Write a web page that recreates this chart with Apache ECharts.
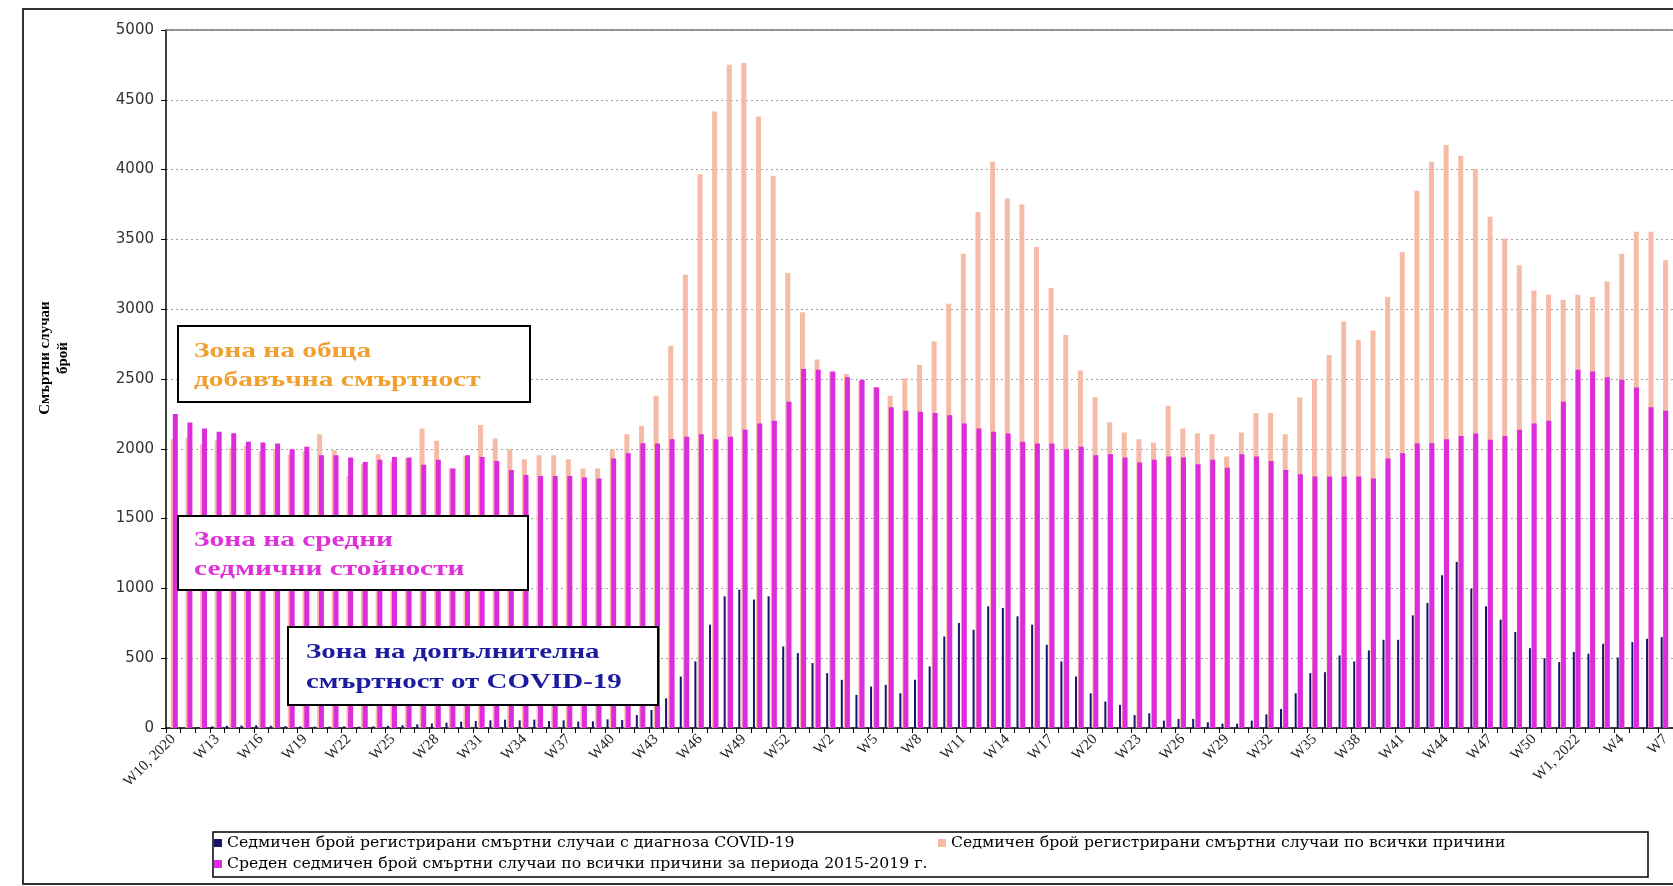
<!DOCTYPE html>
<html>
<head>
<meta charset="utf-8">
<script src="https://cdn.jsdelivr.net/npm/echarts@6/dist/echarts.min.js"></script>
<style>
  html, body { margin: 0; padding: 0; background: #fff; }
  #chart { width: 1673px; height: 886px; }
</style>
</head>
<body>
<div id="chart"></div>
<script>
// седмици: W10 2020 ... W7 2022
const weeks = [
  'W10, 2020','W11','W12','W13','W14','W15','W16','W17','W18','W19','W20','W21','W22','W23','W24','W25','W26','W27','W28','W29',
  'W30','W31','W32','W33','W34','W35','W36','W37','W38','W39','W40','W41','W42','W43','W44','W45','W46','W47','W48','W49',
  'W50','W51','W52','W53',
  'W1, 2021','W2','W3','W4','W5','W6','W7','W8','W9','W10','W11','W12','W13','W14','W15','W16','W17','W18','W19','W20',
  'W21','W22','W23','W24','W25','W26','W27','W28','W29','W30','W31','W32','W33','W34','W35','W36','W37','W38','W39','W40',
  'W41','W42','W43','W44','W45','W46','W47','W48','W49','W50','W51','W52',
  'W1, 2022','W2','W3','W4','W5','W6','W7'
]

// смъртни случаи с COVID-19
const covidDeaths = [
  0, 2, 6, 12, 16, 18, 20, 16, 14, 12, 10, 10, 12, 10, 12, 16, 20, 26, 32, 38,
  45, 50, 55, 60, 55, 60, 50, 55, 46, 48, 62, 57, 93, 129, 213, 369, 477, 740, 943, 991,
  920, 943, 584, 536,
  465, 393, 345, 237, 297, 309, 249, 345, 441, 656, 752, 704, 872, 860, 800, 740, 596, 477, 369, 249,
  189, 165, 93, 105, 53, 65, 65, 41, 31, 31, 53, 98, 136, 249, 393, 400, 520, 477, 556, 632,
  632, 807, 896, 1094, 1190, 999, 872, 776, 687, 572, 500, 472,
  544, 532, 603, 505, 615, 639, 651
]

// смъртни случаи по всички причини
const totalDeaths = [
  2069, 2080, 2030, 2060, 2010, 2020, 1980, 2000, 1960, 1980, 2105, 1990, 1806, 1890, 1961, 1910, 1930, 2146, 2057, 1860,
  1950, 2170, 2074, 1997, 1925, 1954, 1954, 1925, 1858, 1858, 1997, 2105, 2165, 2380, 2739, 3247, 3966, 4416, 4751, 4763,
  4380, 3956, 3259, 2979,
  2639, 2550, 2536, 2488, 2442, 2380, 2505, 2600, 2768, 3039, 3398, 3697, 4057, 3793, 3750, 3446, 3152, 2816, 2560, 2370,
  2190, 2117, 2069, 2045, 2308, 2146, 2112, 2105, 1945, 2117, 2256, 2256, 2105, 2368, 2500, 2672, 2912, 2782, 2847, 3087,
  3410, 3848, 4057, 4176, 4100, 4004, 3662, 3506, 3314, 3134, 3103, 3068,
  3103, 3087, 3199, 3398, 3554, 3554, 3350
]

// средни стойности 2015-2019
const avgDeaths = [
  2249, 2189, 2146, 2122, 2112, 2050, 2045, 2038, 1997, 2014, 1954, 1954, 1937, 1906, 1921, 1942, 1937, 1885, 1921, 1858,
  1954, 1942, 1913, 1849, 1813, 1806, 1806, 1806, 1794, 1787, 1930, 1968, 2040, 2038, 2069, 2086, 2105, 2069, 2086, 2136,
  2182, 2201, 2337, 2572,
  2567, 2553, 2512, 2495, 2440, 2297, 2273, 2265, 2256, 2241, 2182, 2146, 2122, 2110, 2050, 2038, 2038, 1997, 2014, 1954,
  1961, 1937, 1901, 1921, 1945, 1937, 1889, 1921, 1865, 1961, 1945, 1913, 1849, 1818, 1801, 1801, 1801, 1801, 1787, 1930,
  1968, 2040, 2040, 2069, 2091, 2110, 2064, 2091, 2136, 2182, 2201, 2337,
  2567, 2553, 2512, 2495, 2440, 2297, 2273
]

const yTicks = [0, 500, 1000, 1500, 2000, 2500, 3000, 3500, 4000, 4500, 5000]

const names = [
  'Седмичен брой регистрирани смъртни случаи с диагноза COVID-19',
  'Седмичен брой регистрирани смъртни случаи по всички причини',
  'Среден седмичен брой смъртни случаи по всички причини за периода 2015-2019 г.'
]
const colors = ['#16146A', '#F6BBA6', '#DC2CDC']

const chart = echarts.init(document.getElementById('chart'))

const plotTop = 30
const plotH = 698
const plotW = 1508
// три решетки с леко отместване, за да се подредят стълбовете като в оригинала
const shifts = [161, 166, 168]

const serif = 'Liberation Serif'
const legendText = { fontFamily: 'DejaVu Serif', fontSize: 15.7, color: '#000' }

const option = {
  backgroundColor: '#fff',
  animation: false,
  grid: shifts.map(l => ({ left: l, top: plotTop, width: plotW, height: plotH })),
  xAxis: shifts.map((l, i) => ({
    type: 'category',
    gridIndex: i,
    data: weeks,
    show: i === 1,
    axisLine: { lineStyle: { color: '#000', width: 1.5 } },
    axisTick: { show: true, interval: 0, length: 5, lineStyle: { color: '#000' } },
    axisLabel: {
      interval: 2,
      rotate: 45,
      margin: 9,
      fontFamily: serif,
      fontSize: 15,
      color: '#222'
    },
    splitLine: { show: false }
  })),
  yAxis: shifts.map((l, i) => ({
    type: 'value',
    gridIndex: i,
    min: yTicks[0],
    max: yTicks[yTicks.length - 1],
    interval: 500,
    show: i === 1,
    axisLine: { show: true, lineStyle: { color: '#000', width: 1.5 } },
    axisTick: { show: true, length: 5, lineStyle: { color: '#000' } },
    axisLabel: { fontFamily: 'DejaVu Sans', fontSize: 15, color: '#333', margin: 12, formatter: v => String(v) },
    splitLine: { show: i === 1, lineStyle: { color: '#a0a0a0', type: [2, 3], width: 1 } }
  })),
  legend: [
    { data: [names[0]], left: 214, top: 835 },
    { data: [names[1]], left: 938, top: 835 },
    { data: [names[2]], left: 214, top: 856 }
  ].map(l => Object.assign(l, {
    padding: 0, itemWidth: 8, itemHeight: 8, icon: 'rect', itemGap: 4,
    textStyle: legendText
  })),
  series: [
    {
      name: names[0], type: 'bar', xAxisIndex: 0, yAxisIndex: 0,
      data: covidDeaths, barWidth: 2, itemStyle: { color: colors[0] }
    },
    {
      name: names[1], type: 'bar', xAxisIndex: 1, yAxisIndex: 1,
      data: totalDeaths, barWidth: 5, itemStyle: { color: colors[1] }
    },
    {
      name: names[2], type: 'bar', xAxisIndex: 2, yAxisIndex: 2,
      data: avgDeaths, barWidth: 5, itemStyle: { color: colors[2] }
    }
  ],
  graphic: [
    // външна рамка
    { type: 'rect', shape: { x: 23, y: 9, width: 1700, height: 875 },
      style: { fill: 'none', stroke: '#333', lineWidth: 2 }, z: 100 },
    // горна линия на графиката
    { type: 'line', shape: { x1: 166, y1: plotTop, x2: 1673, y2: plotTop },
      style: { stroke: '#777', lineWidth: 1.5 }, z: 100 },
    // рамка на легендата
    { type: 'rect', shape: { x: 213, y: 832, width: 1435, height: 45 },
      style: { fill: 'none', stroke: '#000', lineWidth: 1.5 }, z: 100 },
    // заглавие на оста
    { type: 'text', x: 54, y: 358, rotation: Math.PI / 2, z: 100,
      style: { text: 'Смъртни случаи\nброй', fontFamily: serif, fontWeight: 'bold', fontSize: 15,
        lineHeight: 18, align: 'center', verticalAlign: 'middle', fill: '#000' } },
    // зони
    { type: 'rect', shape: { x: 178, y: 326, width: 352, height: 76 },
      style: { fill: '#fff', stroke: '#000', lineWidth: 2 }, z: 100 },
    { type: 'text', x: 194, y: 337, scaleX: 1.4, z: 101,
      style: { text: 'Зона на обща\nдобавъчна смъртност', fontFamily: serif, fontWeight: 'bold',
        fontSize: 21, lineHeight: 29, fill: '#F0A030' } },
    { type: 'rect', shape: { x: 178, y: 516, width: 350, height: 74 },
      style: { fill: '#fff', stroke: '#000', lineWidth: 2 }, z: 100 },
    { type: 'text', x: 194, y: 526, scaleX: 1.4, z: 101,
      style: { text: 'Зона на средни\nседмични стойности', fontFamily: serif, fontWeight: 'bold',
        fontSize: 21, lineHeight: 29, fill: '#E030D8' } },
    { type: 'rect', shape: { x: 288, y: 627, width: 370, height: 78 },
      style: { fill: '#fff', stroke: '#000', lineWidth: 2 }, z: 100 },
    { type: 'text', x: 306, y: 638, scaleX: 1.38, z: 101,
      style: { text: 'Зона на допълнителна\nсмъртност от COVID-19', fontFamily: serif, fontWeight: 'bold',
        fontSize: 21, lineHeight: 30, fill: '#1C1CA0' } }
  ]
}

chart.setOption(option)
</script>
</body>
</html>
